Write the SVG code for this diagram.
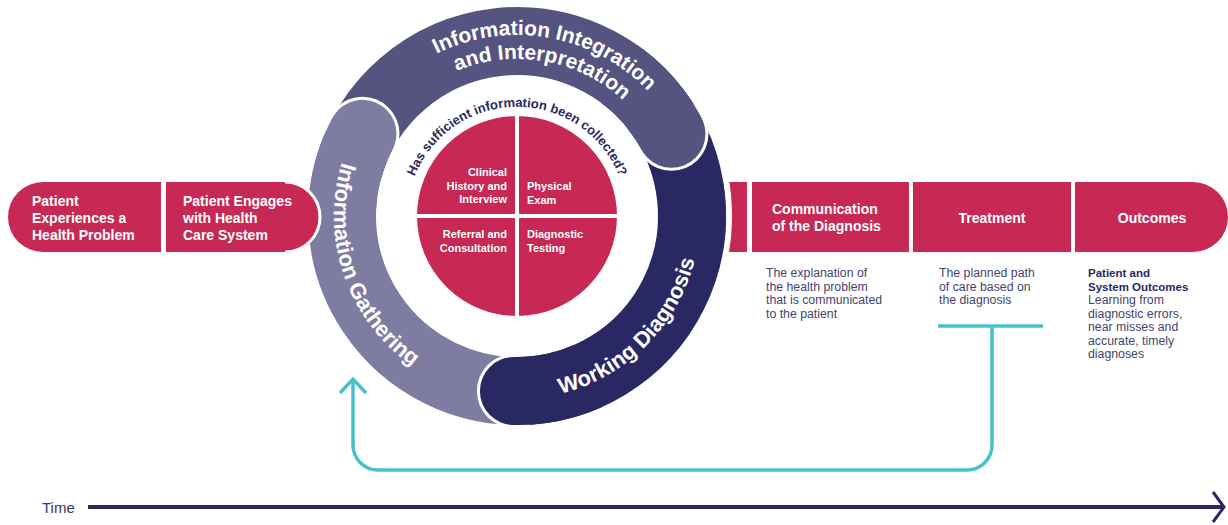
<svg xmlns="http://www.w3.org/2000/svg" width="1228" height="525" viewBox="0 0 1228 525">
  <style>
    .box { fill: #c72854; }
    .bt { font-family: "Liberation Sans", Arial, sans-serif; font-weight: bold; font-size: 14px; fill: #ffffff; }
    .qt { font-family: "Liberation Sans", Arial, sans-serif; font-weight: bold; font-size: 11px; fill: #ffffff; }
    .band { fill: none; stroke-width: 68; }
    .bl { font-family: "Liberation Sans", Arial, sans-serif; font-weight: bold; font-size: 22px; fill: #ffffff; }
    .bl2 { font-size: 21px; }
    .ask { font-family: "Liberation Sans", Arial, sans-serif; font-weight: bold; font-size: 13px; fill: #2a2863; }
    .note { font-family: "Liberation Sans", Arial, sans-serif; font-size: 12.3px; fill: #45446f; }
    .noteh { font-weight: bold; font-size: 11.5px; fill: #2a2863; }
    .loop { fill: none; stroke: #47c2ca; stroke-width: 3.5; }
    .gather { stroke: #7f7ca2; }
    .integ { stroke: #55537f; }
    .work { stroke: #2a2863; }
  </style>

  <defs>
    <!-- text baselines around the ring, centre (517,216) -->
    <path id="arc-integ-1" d="M 360.3 125.5 A 181 181 0 0 1 695.3 184.6"/>
    <path id="arc-integ-2" d="M 381.0 137.5 A 157 157 0 0 1 671.6 188.7"/>
    <path id="arc-gather" d="M 401.8 73.8 A 183 183 0 0 0 513.8 399.0"/>
    <path id="arc-work" d="M 439.7 381.9 A 183 183 0 0 0 682.9 138.7"/>
    <path id="arc-ask" d="M 408.8 197.0 A 110 110 0 0 1 625.2 197.0"/>
  </defs>

  <!-- left-hand journey steps -->
  <g id="node-experiences">
    <path class="box" d="M 43 182 H 161 V 252 H 43 A 35 35 0 0 1 43 182 Z"/>
    <text class="bt" x="32" y="206">Patient</text>
    <text class="bt" x="32" y="223">Experiences a</text>
    <text class="bt" x="32" y="240">Health Problem</text>
  </g>

  <!-- strip of the communication bar that runs under the ring -->
  <g id="node-bar-strip">
    <rect class="box" x="700" y="182" width="47" height="70"/>
    <circle cx="517" cy="216" r="212" fill="none" stroke="#ffffff" stroke-width="6"/>
  </g>

  <!-- diagnostic process ring -->
  <g id="node-ring">
    <path class="band gather" d="M 532.3 390.3 A 175 175 0 0 1 362.5 133.8"/>
    <path class="band integ" d="M 348.0 170.7 A 175 175 0 0 1 671.5 133.8"/>
    <path class="band work" d="M 654.9 108.3 A 175 175 0 0 1 513.9 391.0"/>

    <!-- rounded heads, each over the start of the next band -->
    <circle cx="362.5" cy="133.8" r="37" fill="#ffffff"/>
    <circle cx="362.5" cy="133.8" r="34" fill="#7f7ca2"/>
    <path class="band gather" d="M 342.2 206.8 A 175 175 0 0 1 362.5 133.8"/>

    <circle cx="671.5" cy="133.8" r="37" fill="#ffffff"/>
    <circle cx="671.5" cy="133.8" r="34" fill="#55537f"/>
    <path class="band integ" d="M 622.3 76.2 A 175 175 0 0 1 671.5 133.8"/>

    <circle cx="513.9" cy="391.0" r="37" fill="#ffffff"/>
    <circle cx="513.9" cy="391.0" r="34" fill="#2a2863"/>
    <path class="band work" d="M 588.2 375.9 A 175 175 0 0 1 513.9 391.0"/>
  </g>

  <g id="node-integration">
    <text class="bl bl2"><textPath href="#arc-integ-1" startOffset="50%" text-anchor="middle">Information Integration</textPath></text>
    <text class="bl bl2"><textPath href="#arc-integ-2" startOffset="50%" text-anchor="middle">and Interpretation</textPath></text>
  </g>
  <g id="node-gathering">
    <text class="bl"><textPath href="#arc-gather" startOffset="50%" text-anchor="middle">Information Gathering</textPath></text>
  </g>
  <g id="node-working">
    <text class="bl"><textPath href="#arc-work" startOffset="50%" text-anchor="middle">Working Diagnosis</textPath></text>
  </g>
  <g id="node-question">
    <text class="ask"><textPath href="#arc-ask" startOffset="50%" text-anchor="middle">Has sufficient information been collected?</textPath></text>
  </g>

  <!-- four sources of information -->
  <g id="node-history">
    <path class="box" stroke="#ffffff" stroke-width="4" d="M 517 216 H 415 A 102 102 0 0 1 517 114 Z"/>
    <text class="qt" text-anchor="end" x="507" y="176">Clinical</text>
    <text class="qt" text-anchor="end" x="507" y="189.5">History and</text>
    <text class="qt" text-anchor="end" x="507" y="203">Interview</text>
  </g>
  <g id="node-exam">
    <path class="box" stroke="#ffffff" stroke-width="4" d="M 517 216 V 114 A 102 102 0 0 1 619 216 Z"/>
    <text class="qt" x="527" y="190">Physical</text>
    <text class="qt" x="527" y="203.5">Exam</text>
  </g>
  <g id="node-referral">
    <path class="box" stroke="#ffffff" stroke-width="4" d="M 517 216 V 318 A 102 102 0 0 1 415 216 Z"/>
    <text class="qt" text-anchor="end" x="507" y="238">Referral and</text>
    <text class="qt" text-anchor="end" x="507" y="251.5">Consultation</text>
  </g>
  <g id="node-testing">
    <path class="box" stroke="#ffffff" stroke-width="4" d="M 517 216 H 619 A 102 102 0 0 1 517 318 Z"/>
    <text class="qt" x="527" y="238">Diagnostic</text>
    <text class="qt" x="527" y="251.5">Testing</text>
  </g>

  <g id="node-engages">
    <path class="box" d="M 166 182 H 285 A 35 35 0 0 1 285 252 H 166 Z"/>
    <path d="M 285 182 A 35 35 0 0 1 285 252" fill="none" stroke="#ffffff" stroke-width="3"/>
    <text class="bt" x="183" y="206">Patient Engages</text>
    <text class="bt" x="183" y="223">with Health</text>
    <text class="bt" x="183" y="240">Care System</text>
  </g>

  <!-- right-hand journey steps -->
  <g id="node-communication">
    <rect class="box" x="752" y="182" width="157" height="70"/>
    <text class="bt" x="772" y="214">Communication</text>
    <text class="bt" x="772" y="231">of the Diagnosis</text>
    <text class="note" x="766" y="277">The explanation of</text>
    <text class="note" x="766" y="290.5">the health problem</text>
    <text class="note" x="766" y="304">that is communicated</text>
    <text class="note" x="766" y="317.5">to the patient</text>
  </g>
  <g id="node-treatment">
    <rect class="box" x="913" y="182" width="158" height="70"/>
    <text class="bt" x="992" y="222.5" text-anchor="middle">Treatment</text>
    <text class="note" x="939" y="277">The planned path</text>
    <text class="note" x="939" y="290.5">of care based on</text>
    <text class="note" x="939" y="304">the diagnosis</text>
  </g>
  <g id="node-outcomes">
    <path class="box" d="M 1075 182 H 1193 A 35 35 0 0 1 1193 252 H 1075 Z"/>
    <text class="bt" x="1152" y="222.5" text-anchor="middle">Outcomes</text>
    <text class="note noteh" x="1088" y="277">Patient and</text>
    <text class="note noteh" x="1088" y="290.5">System Outcomes</text>
    <text class="note" x="1088" y="304">Learning from</text>
    <text class="note" x="1088" y="317.5">diagnostic errors,</text>
    <text class="note" x="1088" y="331">near misses and</text>
    <text class="note" x="1088" y="344.5">accurate, timely</text>
    <text class="note" x="1088" y="358">diagnoses</text>
  </g>

  <!-- feedback loop from treatment back to information gathering -->
  <g id="connectors">
    <path class="loop" d="M 938 326 H 1043"/>
    <path class="loop" d="M 992 326 V 445 A 25 25 0 0 1 967 470 H 378 A 25 25 0 0 1 353 445 V 380"/>
    <path class="loop" d="M 340 393 L 353 379 L 366 393"/>
  </g>

  <!-- time axis -->
  <g id="time-axis">
    <text x="42" y="513" font-family="'Liberation Sans', Arial, sans-serif" font-size="15" fill="#3a3968">Time</text>
    <path d="M 88 507 H 1222" stroke="#2a2863" stroke-width="4" fill="none"/>
    <path d="M 1213 492 L 1224 507 L 1213 522" stroke="#2a2863" stroke-width="3" fill="none"/>
  </g>
</svg>
